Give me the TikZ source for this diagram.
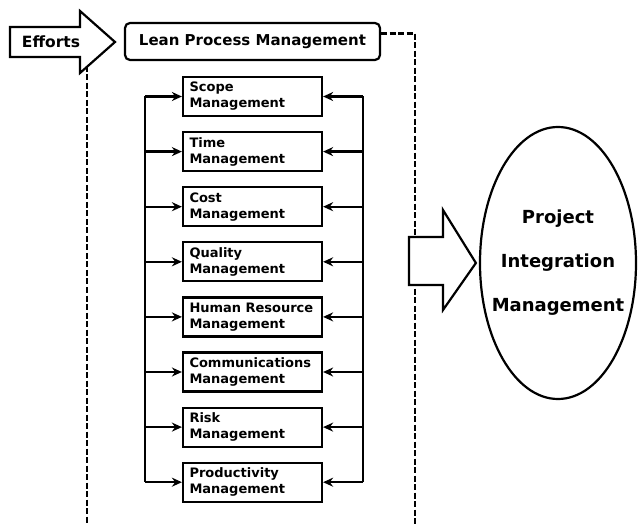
\documentclass[tikz,border=0pt]{standalone}
\usepackage{fontspec}
\setmainfont{DejaVu Sans}
\usetikzlibrary{arrows.meta,shapes.geometric}

\tikzset{
  areabox/.style={draw, line width=2.2pt, minimum width=139pt, minimum height=39pt,
    text width=126pt, align=left, inner sep=0pt,
    font=\bfseries\fontsize{13}{16}\selectfont},
  feed/.style={line width=2.2pt, -{Stealth[length=10pt,width=9pt]}},
  rail/.style={line width=2.2pt},
  frame/.style={line width=2.2pt, dash pattern=on 6pt off 2.5pt},
  bigarrow/.style={draw, fill=white, line width=2.2pt, line join=miter},
}

\begin{document}
\begin{tikzpicture}[x=1pt,y=-1pt]
\useasboundingbox (0,0) rectangle (638,524);

% dashed frame round the areas
\node[draw, line width=2.2pt, rounded corners=5pt, minimum width=255pt, minimum height=37pt,
  inner sep=0pt, font=\bfseries\fontsize{15}{18}\selectfont] (lean) at (252.5,41.5) {Lean Process Management};
\coordinate (ltop) at (87,66);
\coordinate (lbot) at (87,524);
\coordinate (rbot) at (415,524);
\draw[frame] (ltop) -- (lbot);
\draw[frame] ([yshift=8pt]lean.east) -| (rbot);

% efforts
\draw[bigarrow] (10,27) -- (80,27) -- (80,11) -- (115,42) -- (80,73) -- (80,57) -- (10,57) -- cycle;
\node[font=\bfseries\fontsize{15.5}{18}\selectfont] (efforts) at (51,42) {Efforts};

% knowledge areas
\coordinate (lrail) at (145,0);
\coordinate (rrail) at (363,0);
\foreach \name/\txt [count=\i] in {scope/{Scope\\Management}, time/{Time\\Management},
    cost/{Cost\\Management}, quality/{Quality\\Management}, human/{Human Resource\\Management},
    comm/{Communications\\Management}, risk/{Risk\\Management}, prod/{Productivity\\Management}}
{
  \node[areabox] (\name) at (252.5,41.4+55.1*\i) {\txt};
  \draw[feed] (lrail |- \name.west) -- (\name.west);
  \draw[feed] (rrail |- \name.east) -- (\name.east);
}
\draw[rail] (lrail |- scope.west) -- (lrail |- prod.west);
\draw[rail] (rrail |- scope.east) -- (rrail |- prod.east);

% integration
\node[draw, ellipse, line width=2.2pt, minimum width=156pt, minimum height=272pt] (pim) at (558,263) {};
\node[align=center, font=\bfseries\fontsize{18}{44}\selectfont] (pimtext) at (pim.center) {Project\\Integration\\Management};
\draw[bigarrow] (409,237) -- (443,237) -- (443,210) -- ([xshift=-3pt]pim.west) -- (443,310) -- (443,285) -- (409,285) -- cycle;

\end{tikzpicture}
\end{document}
